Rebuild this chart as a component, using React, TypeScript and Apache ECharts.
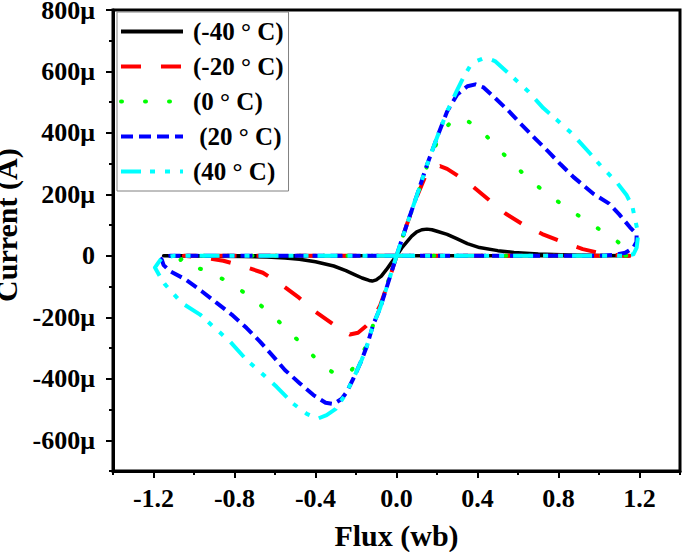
import React, { useEffect, useRef } from "react";
import * as echarts from "echarts";

// ---- data (flux in Wb, current in µA) ----
const seriesNames = ["(-40 ° C)", "(-20 ° C)", "(0 ° C)", " (20 ° C)", "(40 ° C)"];

const loopM40: [number, number][] = [
  [0, 0], [-1.15, 0],
  [-0.9, -1], [-0.75, -2], [-0.64, -4], [-0.55, -7], [-0.48, -11], [-0.4, -19], [-0.31, -33],
  [-0.25, -48], [-0.21, -60], [-0.17, -72], [-0.135, -80], [-0.12, -82], [-0.1, -78],
  [-0.075, -66], [-0.05, -45], [-0.025, -22], [0, 0],
  [0.025, 25], [0.05, 45], [0.075, 64], [0.1, 78], [0.125, 85], [0.15, 87], [0.175, 85],
  [0.2, 80], [0.25, 70], [0.3, 55], [0.35, 40], [0.41, 27], [0.5, 17], [0.58, 11],
  [0.7, 6], [0.85, 3], [1.0, 1], [1.15, 0], [0, 0],
];

const loopM20: [number, number][] = [
  [0, 0], [-1.05, 0],
  [-0.96, -5], [-0.855, -16], [-0.76, -33], [-0.66, -55], [-0.57, -93], [-0.48, -137],
  [-0.4, -182], [-0.31, -224], [-0.26, -248], [-0.23, -256], [-0.19, -250], [-0.15, -228],
  [-0.115, -205], [-0.08, -160], [-0.04, -85], [0, 0],
  [0.05, 100], [0.1, 192], [0.14, 255], [0.18, 285], [0.215, 292], [0.25, 283], [0.3, 262],
  [0.38, 224], [0.46, 180], [0.54, 137], [0.63, 100], [0.72, 71], [0.82, 45], [0.92, 22],
  [1.0, 10], [1.08, 3], [1.15, 0], [0, 0],
];

const loop0: [number, number][] = [
  [0, 0], [-1.0, 0],
  [-1.05, -4], [-1.07, -15], [-1.03, -32], [-0.94, -47], [-0.83, -85], [-0.72, -134],
  [-0.62, -189], [-0.53, -246], [-0.44, -306], [-0.36, -360], [-0.3, -385], [-0.26, -390],
  [-0.22, -370], [-0.18, -331], [-0.147, -290], [-0.115, -224], [-0.08, -165], [-0.04, -80], [0, 0],
  [0.05, 100], [0.1, 192], [0.15, 290], [0.2, 370], [0.24, 415], [0.28, 443], [0.32, 448],
  [0.36, 435], [0.4, 420], [0.49, 358], [0.57, 303], [0.66, 246], [0.76, 194], [0.86, 148],
  [0.96, 104], [1.06, 62], [1.12, 32], [1.16, 11], [1.15, 2], [1.12, 0], [0, 0],
];

const loop20: [number, number][] = [
  [0, 0], [-1.12, 0],
  [-1.14, -2], [-1.16, -11], [-1.15, -30], [-1.12, -49], [-1.044, -76], [-0.962, -115],
  [-0.888, -153], [-0.814, -191], [-0.74, -235], [-0.674, -279], [-0.608, -328], [-0.55, -372],
  [-0.477, -415], [-0.41, -453], [-0.35, -478], [-0.31, -482], [-0.27, -465], [-0.246, -443],
  [-0.213, -399], [-0.172, -339], [-0.147, -295], [-0.115, -224], [-0.081, -170], [-0.04, -85], [0, 0],
  [0.05, 100], [0.1, 195], [0.15, 295], [0.2, 385], [0.25, 470], [0.3, 525], [0.35, 552],
  [0.39, 558], [0.43, 548], [0.486, 514], [0.55, 474], [0.61, 432], [0.68, 385], [0.75, 339],
  [0.81, 298], [0.873, 257], [0.972, 202], [1.05, 170], [1.1, 135], [1.153, 93], [1.186, 71],
  [1.185, 45], [1.17, 27], [1.13, 10], [1.07, 3], [1.0, 0], [0, 0],
];

const loop40: [number, number][] = [
  [0, 0], [-1.1, 0],
  [-1.16, -8], [-1.176, -22], [-1.193, -38], [-1.17, -65], [-1.143, -93], [-1.061, -153],
  [-0.97, -191], [-0.905, -230], [-0.822, -279], [-0.74, -339], [-0.674, -377], [-0.592, -426],
  [-0.51, -481], [-0.443, -514], [-0.39, -530], [-0.345, -518], [-0.3, -498], [-0.28, -478],
  [-0.254, -453], [-0.213, -399], [-0.172, -339], [-0.147, -295], [-0.115, -224], [-0.081, -170],
  [-0.04, -85], [0, 0],
  [0.05, 100], [0.1, 195], [0.15, 295], [0.2, 385], [0.25, 470], [0.3, 540], [0.33, 580],
  [0.363, 617], [0.4, 635], [0.43, 643], [0.47, 638], [0.486, 634], [0.56, 590], [0.651, 535],
  [0.725, 481], [0.791, 443], [0.865, 399], [0.956, 333], [1.013, 290], [1.087, 240],
  [1.137, 197], [1.165, 160], [1.178, 120], [1.194, 71], [1.186, 27], [1.17, 5], [1.12, 0], [0, 0],
];

const loops = [loopM40, loopM20, loop0, loop20, loop40];

// axis ranges / ticks
const xMin = -1.4, xMax = 1.4, xMinorStep = 0.2;
const xLabelMin = -1.2, xLabelMax = 1.2, xLabelStep = 0.4;
const yMin = -700, yMax = 800, yMinorStep = 100;
const yLabelMin = -600, yLabelMax = 800, yLabelStep = 200;

// ---- styles ----
const colors = ["#000000", "#ff0000", "#00ff00", "#0000ff", "#00ffff"];
const dashes: (number[] | "solid")[] = ["solid", [20, 20], [1, 23], [12, 6], [20, 9, 5, 10, 5, 10]];
const widths = [3.5, 4, 4, 4, 4];
const caps = ["butt", "butt", "round", "butt", "butt"];

const FONT = "Liberation Serif";
const W = 685, H = 552;
const G = { left: 113, right: 5, top: 10, bottom: 81 };

export default function App() {
  const ref = useRef<HTMLDivElement>(null);
  useEffect(() => {
    document.body.style.margin = "0";
    if (!ref.current) return;
    const chart = echarts.init(ref.current, undefined, { renderer: "svg" });
    const plotW = W - G.left - G.right;
    const plotH = H - G.top - G.bottom;
    const pxPerX = plotW / (xMax - xMin);
    const pxPerY = plotH / (yMax - yMin);
    const grid1 = {
      left: G.left + (xLabelMin - xMin) * pxPerX,
      right: G.right + (xMax - xLabelMax) * pxPerX,
      top: G.top,
      bottom: G.bottom,
    };
    const grid2 = {
      left: G.left,
      right: G.right,
      top: G.top + (yMax - yLabelMax) * pxPerY,
      bottom: G.bottom + (yLabelMin - yMin) * pxPerY,
    };
    const tickStyle = { color: "#000", width: 2 };
    const noBounds = { containLabel: false, outerBoundsMode: "none" };
    chart.setOption({
      animation: false,
      backgroundColor: "#fff",
      textStyle: { fontFamily: FONT },
      grid: [
        { ...G, ...noBounds, show: true, borderColor: "#000", borderWidth: 3, backgroundColor: "transparent" },
        { ...grid1, ...noBounds },
        { ...grid2, ...noBounds },
      ],
      xAxis: [
        {
          gridIndex: 0, type: "value", min: xMin, max: xMax, interval: xMinorStep,
          axisLine: { show: true, onZero: false, lineStyle: { color: "#000", width: 3 } },
          axisTick: { show: true, inside: false, length: 4, lineStyle: tickStyle },
          axisLabel: { show: false }, splitLine: { show: false },
        },
        {
          gridIndex: 1, type: "value", min: xLabelMin, max: xLabelMax, interval: xLabelStep,
          axisLine: { show: false, onZero: false },
          axisTick: { show: true, inside: false, length: 7, lineStyle: tickStyle },
          axisLabel: {
            show: true, margin: 14, color: "#000", fontSize: 26, fontWeight: "bold", fontFamily: FONT,
            formatter: (v: number) => (Math.abs(v) < 1e-9 ? "0.0" : v.toFixed(1)),
          },
          splitLine: { show: false },
          name: "Flux (wb)", nameLocation: "middle", nameGap: 49,
          nameTextStyle: { color: "#000", fontSize: 30, fontWeight: "bold", fontFamily: FONT },
        },
        { gridIndex: 2, type: "value", min: xMin, max: xMax, show: false },
      ],
      yAxis: [
        {
          gridIndex: 0, type: "value", min: yMin, max: yMax, interval: yMinorStep,
          axisLine: { show: true, onZero: false, lineStyle: { color: "#000", width: 3 } },
          axisTick: { show: true, inside: false, length: 4, lineStyle: tickStyle },
          axisLabel: { show: false }, splitLine: { show: false },
        },
        { gridIndex: 1, type: "value", min: yMin, max: yMax, show: false },
        {
          gridIndex: 2, type: "value", min: yLabelMin, max: yLabelMax, interval: yLabelStep,
          axisLine: { show: false, onZero: false },
          axisTick: { show: true, inside: false, length: 7, lineStyle: tickStyle },
          axisLabel: {
            show: true, margin: 18, color: "#000", fontSize: 26, fontWeight: "bold", fontFamily: FONT,
            formatter: (v: number) => (Math.abs(v) < 1e-9 ? "0" : `${Math.round(v)}μ`),
          },
          splitLine: { show: false },
          name: "Current (A)", nameLocation: "middle", nameGap: 77,
          nameTextStyle: { color: "#000", fontSize: 30, fontWeight: "bold", fontFamily: FONT },
        },
      ],
      legend: {
        orient: "vertical",
        left: 117, top: 12,
        padding: [7, 5, 7, 2],
        itemGap: 10,
        itemWidth: 62, itemHeight: 14,
        borderColor: "#808080", borderWidth: 1,
        backgroundColor: "#fff",
        data: seriesNames,
        itemStyle: { opacity: 0 },
        lineStyle: { width: 4 },
        textStyle: {
          color: "#000", fontSize: 25, fontWeight: "bold", fontFamily: FONT,
          padding: [0, 0, 0, 5],
        },
      },
      series: loops.map((d, i) => ({
        type: "line",
        name: seriesNames[i],
        xAxisIndex: 0, yAxisIndex: 0,
        data: d,
        symbol: "none",
        smooth: false,
        lineStyle: { color: colors[i], width: widths[i], type: dashes[i], cap: caps[i], join: "round" },
        itemStyle: { color: colors[i] },
        z: 2 + i,
      })),
    });
    return () => chart.dispose();
  }, []);
  return <div ref={ref} style={{ width: W, height: H }} />;
}
